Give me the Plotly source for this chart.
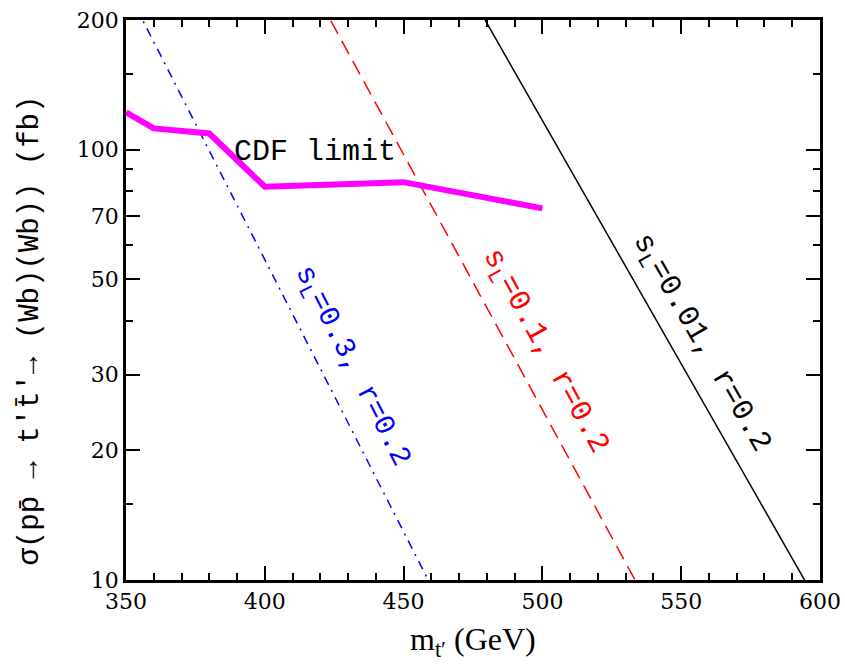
import plotly.graph_objects as go

# CDF limit
cdf_mass = [350, 360, 380, 400, 450, 500]
cdf_xsec = [122, 112, 109, 82, 84, 73]

# theory curves
m_blue = [350, 375, 400, 425, 450, 475]
s_blue = [238, 115, 55.6, 26.8, 12.9, 6.25]

m_red = [400, 425, 450, 475, 500, 525, 550]
s_red = [381, 192, 97.4, 49.2, 24.9, 12.6, 6.35]

m_black = [475, 500, 525, 550, 575, 600]
s_black = [224, 117, 61, 31.8, 16.6, 8.65]

x_major = [350, 400, 450, 500, 550, 600]
x_minor = [v for v in range(350, 601, 10) if v % 50 != 0]
y_major = [10, 20, 30, 50, 70, 100, 200]
y_minor = [15, 40, 60, 80, 90, 150]

serif = "Liberation Serif"
mono = "Liberation Mono"
tickfam = "DejaVu Serif"

fig = go.Figure()
fig.add_trace(go.Scatter(x=m_blue, y=s_blue, mode="lines",
                         line=dict(color="#0000ff", width=1.5, dash="9px,6px,2px,6px")))
fig.add_trace(go.Scatter(x=m_red, y=s_red, mode="lines",
                         line=dict(color="#ff0000", width=1.5, dash="15px,8px")))
fig.add_trace(go.Scatter(x=m_black, y=s_black, mode="lines",
                         line=dict(color="#000000", width=1.5)))
fig.add_trace(go.Scatter(x=cdf_mass, y=cdf_xsec, mode="lines",
                         line=dict(color="#ff00ff", width=6)))

fig.add_annotation(x=418, y=1.994, text="CDF limit", showarrow=False,
                   font=dict(family=mono, size=30, color="black"))
fig.add_annotation(x=431.3, y=1.4955, text="s<sub>L</sub>=0.3, r=0.2", showarrow=False,
                   textangle=63, font=dict(family=mono, size=29, color="#0000ff"))
fig.add_annotation(x=500.7, y=1.530, text="s<sub>L</sub>=0.1, r=0.2", showarrow=False,
                   textangle=61, font=dict(family=mono, size=30, color="#ff0000"))
fig.add_annotation(x=557.2, y=1.5506, text="s<sub>L</sub>=0.01, r=0.2", showarrow=False,
                   textangle=60, font=dict(family=mono, size=30, color="#000000"))

# axis titles
fig.add_annotation(xref="paper", yref="paper", x=-0.138, y=0.446,
                   xanchor="center", yanchor="middle", textangle=-90, showarrow=False,
                   text="σ(pp\u0304 → t′t\u0304′→ (Wb)(Wb)) (fb)",
                   font=dict(family=mono, size=29, color="black"))
fig.add_annotation(xref="paper", yref="paper", x=0.5, y=-0.11,
                   xanchor="center", yanchor="middle", showarrow=False,
                   text="m<sub>t′</sub> (GeV)",
                   font=dict(family=serif, size=32, color="black"))

fig.update_layout(
    width=845, height=669,
    margin=dict(l=126, r=25, t=20, b=89),
    paper_bgcolor="white", plot_bgcolor="white",
    showlegend=False,
    font=dict(family=serif, color="black"),
)
fig.update_xaxes(
    range=[350, 600], showgrid=False, zeroline=False, automargin=False,
    showline=True, linecolor="black", linewidth=2.5, mirror="ticks",
    ticks="inside", ticklen=14, tickwidth=2, tickcolor="black",
    tickvals=x_major, ticktext=[str(v) for v in x_major],
    tickfont=dict(family=tickfam, size=22), ticklabeloverflow="allow",
    minor=dict(tickvals=x_minor, ticks="inside", ticklen=7, tickwidth=2, tickcolor="black"),
)
fig.update_yaxes(
    type="log", range=[1, 2.30103], showgrid=False, zeroline=False, automargin=False,
    showline=True, linecolor="black", linewidth=2.5, mirror="ticks",
    ticks="inside", ticklen=14, tickwidth=2, tickcolor="black",
    tickvals=y_major, ticktext=[str(v) for v in y_major],
    tickfont=dict(family=tickfam, size=22), ticklabeloverflow="allow",
    minor=dict(tickvals=y_minor, ticks="inside", ticklen=7, tickwidth=2, tickcolor="black"),
)

fig.write_html("out.html", config={"displayModeBar": False},
               post_script="document.body.style.margin='0';document.body.style.overflow='hidden';")
